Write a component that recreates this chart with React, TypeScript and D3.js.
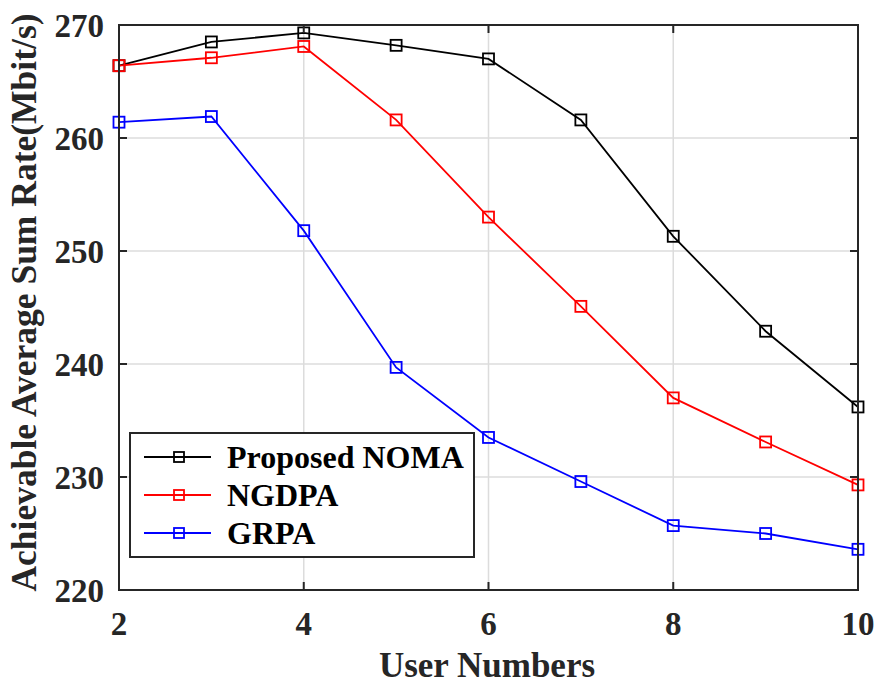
import React from "react";
import * as d3 from "d3";

const userNumbers = [2, 3, 4, 5, 6, 7, 8, 9, 10];
const proposedNoma = [266.4, 268.5, 269.3, 268.2, 267.0, 261.6, 251.3, 242.9, 236.2];
const ngdpa = [266.4, 267.1, 268.1, 261.6, 253.0, 245.1, 237.0, 233.1, 229.3];
const grpa = [261.4, 261.9, 251.8, 239.7, 233.5, 229.6, 225.7, 225.0, 223.6];
const seriesNames = ["Proposed NOMA", "NGDPA", "GRPA"];
const seriesColors = ["#000000", "#ff0000", "#0000ff"];
const xTicks = [2, 4, 6, 8, 10];
const yTicks = [220, 230, 240, 250, 260, 270];

const W = 876;
const H = 687;
const M = { left: 119, right: 858, top: 25, bottom: 590 };
const FONT = "'Liberation Serif', 'Times New Roman', serif";

export default function App() {
  const x = d3.scaleLinear().domain([2, 10]).range([M.left, M.right]);
  const y = d3.scaleLinear().domain([220, 270]).range([M.bottom, M.top]);
  const line = d3
    .line<number>()
    .x((_, i) => x(userNumbers[i]))
    .y((d) => y(d));
  const series = [proposedNoma, ngdpa, grpa];
  const ms = 11;
  const legend = { x: 130, y: 433, w: 344, h: 124 };
  const rowY = [457, 495, 533];

  return (
    <svg
      width={W}
      height={H}
      style={{ position: "absolute", left: 0, top: 0, background: "#fff" }}
      fontFamily={FONT}
    >
      <rect x={0} y={0} width={W} height={H} fill="#fff" />
      {/* grid */}
      {xTicks.map((t) => (
        <line key={"gx" + t} x1={x(t)} x2={x(t)} y1={M.top} y2={M.bottom} stroke="#dcdcdc" strokeWidth={1.5} />
      ))}
      {yTicks.map((t) => (
        <line key={"gy" + t} x1={M.left} x2={M.right} y1={y(t)} y2={y(t)} stroke="#dcdcdc" strokeWidth={1.5} />
      ))}
      {/* series */}
      {series.map((s, k) => (
        <g key={"s" + k}>
          <path d={line(s) || ""} fill="none" stroke={seriesColors[k]} strokeWidth={1.8} />
          {s.map((v, i) => (
            <rect
              key={i}
              x={x(userNumbers[i]) - ms / 2}
              y={y(v) - ms / 2}
              width={ms}
              height={ms}
              fill="none"
              stroke={seriesColors[k]}
              strokeWidth={1.8}
            />
          ))}
        </g>
      ))}
      {/* axes box */}
      <rect
        x={M.left}
        y={M.top}
        width={M.right - M.left}
        height={M.bottom - M.top}
        fill="none"
        stroke="#262626"
        strokeWidth={2}
      />
      {xTicks.map((t) => (
        <g key={"tx" + t}>
          <line x1={x(t)} x2={x(t)} y1={M.bottom} y2={M.bottom - 8} stroke="#262626" strokeWidth={2} />
          <line x1={x(t)} x2={x(t)} y1={M.top} y2={M.top + 8} stroke="#262626" strokeWidth={2} />
          <text x={x(t)} y={635} textAnchor="middle" fontSize={33} fontWeight="bold" fill="#262626">
            {t}
          </text>
        </g>
      ))}
      {yTicks.map((t) => (
        <g key={"ty" + t}>
          <line x1={M.left} x2={M.left + 8} y1={y(t)} y2={y(t)} stroke="#262626" strokeWidth={2} />
          <line x1={M.right} x2={M.right - 8} y1={y(t)} y2={y(t)} stroke="#262626" strokeWidth={2} />
          <text x={104} y={y(t) + 12} textAnchor="end" fontSize={33} fontWeight="bold" fill="#262626">
            {t}
          </text>
        </g>
      ))}
      <text x={487} y={677} textAnchor="middle" fontSize={35} fontWeight="bold" fill="#262626">
        User Numbers
      </text>
      <text
        transform={`translate(36, ${(M.top + M.bottom) / 2 - 5}) rotate(-90)`}
        textAnchor="middle"
        fontSize={35.5}
        fontWeight="bold"
        fill="#262626"
      >
        Achievable Average Sum Rate(Mbit/s)
      </text>
      {/* legend */}
      <rect x={legend.x} y={legend.y} width={legend.w} height={legend.h} fill="#fff" stroke="#262626" strokeWidth={2} />
      {seriesNames.map((n, k) => (
        <g key={"l" + k}>
          <line x1={144} x2={211} y1={rowY[k]} y2={rowY[k]} stroke={seriesColors[k]} strokeWidth={1.8} />
          <rect x={179 - 5} y={rowY[k] - 5} width={10} height={10} fill="none" stroke={seriesColors[k]} strokeWidth={1.8} />
          <text x={227} y={rowY[k] + 11} fontSize={32} fontWeight="bold" fill="#000">
            {n}
          </text>
        </g>
      ))}
    </svg>
  );
}
